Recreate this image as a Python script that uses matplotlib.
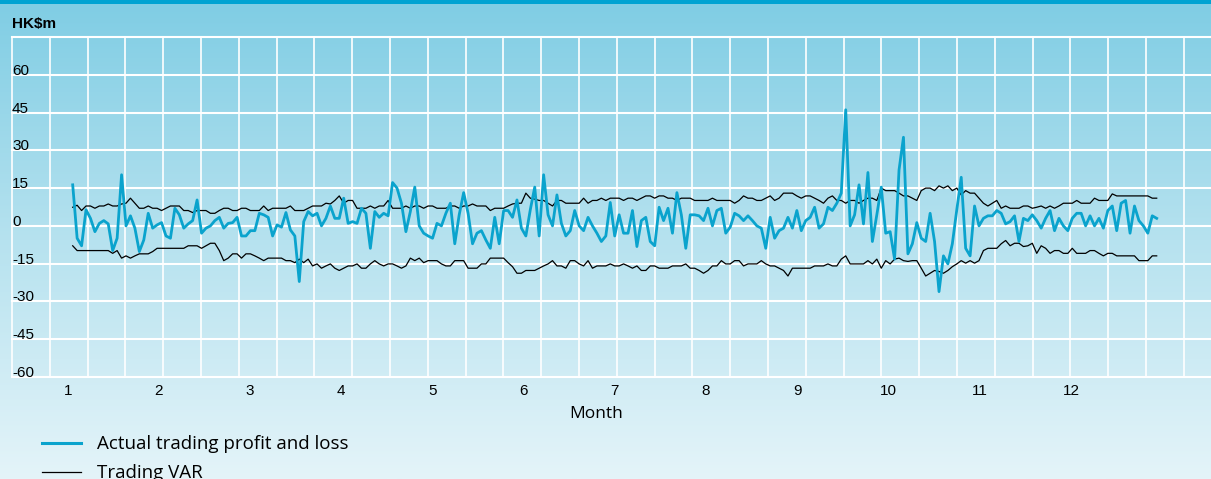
import numpy as np
import matplotlib.pyplot as plt
from matplotlib.colors import LinearSegmentedColormap
from matplotlib.lines import Line2D
from matplotlib.patches import Rectangle
from matplotlib.transforms import blended_transform_factory

# daily trading P&L (HK$m)
pnl = [
    16.3, -4.9, -7.9, 6.4, 3.0, -2.3, 1.0, 2.1, 0.8, -9.8,
    -4.9, 20.3, 0.0, 4.0, -0.9, -10.2, -5.6, 5.0, -0.9, 0.4,
    1.3, -4.0, -4.9, 7.0, 4.4, -0.9, 0.8, 2.1, 10.3, -2.9,
    -0.9, 0.0, 2.1, 3.4, -0.9, 1.0, 1.3, 3.4, -4.0, -4.0,
    -1.9, -1.9, 5.0, 4.4, 3.4, -4.0, 0.4, -0.5, 5.3, -1.6,
    -4.0, -22.1, 1.7, 5.7, 4.0, 5.0, 0.0, 3.0, 7.9, 3.0,
    3.0, 11.0, 1.0, 1.7, 1.0, 7.0, 5.0, -8.9, 5.7, 3.4,
    5.0, 4.0, 17.2, 15.0, 9.0, -2.3, 5.7, 15.4, 0.0, -2.9,
    -4.0, -4.9, 1.0, 0.0, 5.0, 9.0, -7.1, 4.4, 13.2, 5.0,
    -7.1, -2.9, -1.9, -5.6, -8.9, 3.4, -7.1, 6.1, 6.1,
    3.4, 10.3, -0.9, -4.0, 6.4, 15.4, -4.0, 20.3, 4.4, 0.0,
    12.3, 1.0, -4.0, -1.9, 6.1, 0.0, -1.9, 3.4, 0.0, -2.9,
    -6.2, -4.0, 9.3, -4.0, 4.4, -2.9, -2.9, 6.1, -8.2, 2.1,
    3.4, -6.2, -7.9, 7.4, 2.1, 7.0, -2.9, 13.2, 4.4, -8.9,
    4.4, 4.4, 4.0, 2.1, 7.0, 0.0, 6.1, 7.0, -2.9, -0.5,
    5.0, 4.0, 2.1, 4.0, 2.1, 0.0, -0.9, -8.9, 3.4, -4.9,
    -1.9, -0.9, 3.4, -0.9, 6.1, -1.9, 2.1, 3.4, 7.4, -0.9,
    0.8, 7.4, 6.1, 9.0, 13.0, 46.1, 0.0, 4.4, 16.3, 0.8,
    21.2, -6.2, 4.4, 15.4, -2.9, -2.3, -13.2, 22.2, 35.2, -11.1,
    -7.1, 1.3, -4.9, -6.2, 5.0, -6.2, -26.1, -11.9, -15.1,
    -7.1, 6.4, 19.3, -8.9, -11.9, 7.9, 0.0, 3.0, 4.0, 4.0,
    6.1, 5.0, 0.8, 1.7, 4.0, -6.2, 3.0, 2.1, 4.4, 2.1,
    -0.9, 3.0, 6.1, -1.9, 3.0, 0.0, -1.9, 3.0, 5.0, 5.0,
    0.0, 4.0, 0.0, 3.0, -0.9, 6.1, 7.9, -1.9, 9.0, 10.1,
    -2.9, 7.9, 2.1, 0.0, -2.9, 4.0, 3.0,
]

# trading VAR band, upper and lower
var_hi = [
    7.4, 8.2, 6.1, 7.9, 7.9, 7.0, 7.9, 7.9, 8.7, 7.9,
    7.9, 8.7, 9.0, 11.0, 9.0, 7.0, 7.0, 7.9, 7.0, 7.0,
    6.1, 7.0, 7.9, 7.9, 7.9, 6.1, 6.1, 5.3, 6.1, 6.1,
    6.1, 5.0, 5.0, 6.1, 7.0, 7.0, 6.1, 6.1, 7.0, 7.0,
    6.1, 6.1, 6.1, 7.9, 6.1, 7.0, 7.0, 7.0, 7.0, 7.9,
    6.1, 6.1, 6.1, 7.0, 7.9, 7.9, 7.9, 9.0, 8.7, 10.1,
    11.9, 9.0, 10.1, 10.1, 7.0, 7.0, 7.0, 7.9, 7.0, 7.9,
    7.9, 10.1, 7.0, 7.0, 7.0, 7.9, 7.0, 7.9, 7.9, 7.0,
    7.9, 7.9, 7.0, 7.0, 7.0, 7.9, 7.9, 7.0, 7.9, 7.9,
    8.7, 7.9, 7.9, 7.9, 6.1, 7.0, 7.0, 7.0, 7.9,
    8.7, 9.0, 9.0, 13.0, 11.0, 10.6, 10.1, 10.1, 9.0, 7.9,
    10.1, 10.1, 9.0, 9.0, 9.0, 9.0, 11.0, 9.0, 10.1, 10.1,
    11.0, 10.1, 11.0, 11.0, 11.0, 10.1, 11.0, 11.0, 10.1, 11.0,
    11.9, 11.9, 11.0, 11.9, 11.9, 11.0, 11.0, 10.1, 11.0, 11.0,
    11.0, 10.1, 10.1, 10.1, 10.1, 11.0, 10.1, 10.1, 10.1, 10.1,
    9.0, 10.1, 11.9, 11.0, 11.0, 10.1, 10.1, 11.0, 11.9, 10.1,
    11.0, 13.0, 13.0, 13.0, 11.9, 11.0, 11.9, 11.9, 11.0, 10.1,
    9.0, 11.0, 11.9, 10.1, 10.1, 9.0, 10.1, 10.1, 9.0, 10.1,
    11.0, 11.0, 10.1, 15.0, 14.0, 14.0, 14.0, 13.0, 11.9, 11.9,
    11.0, 10.1, 14.0, 15.0, 15.0, 14.0, 15.9, 15.0, 15.9,
    14.0, 15.0, 12.3, 14.0, 13.0, 13.0, 11.0, 9.0, 7.9, 9.0,
    10.1, 7.0, 7.9, 7.0, 7.0, 7.0, 7.9, 7.9, 7.0, 7.4,
    7.9, 7.0, 7.9, 7.0, 7.9, 9.0, 9.0, 9.0, 10.1, 9.0,
    9.0, 9.0, 11.0, 10.1, 10.1, 10.1, 12.7, 11.9, 11.9, 11.9,
    11.9, 11.9, 11.9, 11.9, 11.9, 11.0, 11.0,
]

var_lo = [
    -7.9, -9.8, -9.8, -9.8, -9.8, -9.8, -9.8, -9.8, -9.8, -10.9,
    -9.8, -12.8, -11.9, -12.8, -11.9, -11.1, -11.1, -11.1, -10.2, -8.9,
    -8.9, -8.9, -8.9, -8.9, -8.9, -8.9, -7.9, -7.9, -7.9, -8.9,
    -7.9, -6.9, -6.9, -9.8, -13.8, -12.8, -11.1, -11.1, -12.8, -11.1,
    -11.1, -11.9, -12.8, -13.8, -12.8, -12.8, -12.8, -12.8, -13.8, -13.8,
    -14.6, -13.2, -14.6, -13.2, -15.9, -15.1, -16.8, -15.9, -15.1, -16.8,
    -17.7, -16.8, -15.9, -15.9, -15.1, -16.8, -16.8, -15.1, -13.8, -15.1,
    -15.9, -15.1, -15.1, -15.9, -16.8, -15.9, -12.8, -13.8, -12.8, -14.6,
    -13.8, -13.8, -13.8, -15.1, -15.9, -15.9, -13.8, -13.8, -13.8, -16.8,
    -16.8, -16.8, -15.1, -15.1, -12.8, -12.8, -12.8, -12.8, -14.6,
    -16.2, -18.8, -18.8, -17.7, -17.7, -17.7, -16.8, -15.9, -15.1, -13.8,
    -15.9, -15.9, -16.8, -13.8, -13.8, -15.1, -15.9, -13.8, -16.8, -15.9,
    -15.9, -15.9, -15.1, -15.9, -15.9, -15.1, -15.9, -16.8, -15.9, -17.7,
    -17.7, -15.9, -15.9, -16.8, -16.8, -16.8, -15.9, -15.9, -15.9, -15.1,
    -16.8, -16.8, -17.7, -18.8, -17.7, -15.9, -15.9, -13.8, -15.1, -15.1,
    -13.8, -13.8, -15.9, -15.1, -15.1, -15.1, -13.8, -15.1, -15.9, -15.9,
    -16.8, -17.7, -19.9, -16.8, -16.8, -16.8, -16.8, -16.8, -15.9, -15.9,
    -15.9, -15.1, -15.9, -15.9, -13.2, -11.9, -15.1, -15.1, -15.1, -15.1,
    -13.8, -15.1, -13.2, -16.8, -13.8, -15.1, -13.2, -12.8, -13.8, -14.1,
    -13.8, -13.8, -16.8, -19.9, -18.8, -17.7, -18.1, -18.8, -17.7,
    -16.2, -15.1, -13.8, -14.8, -13.8, -14.8, -13.8, -9.8, -8.9, -8.9,
    -8.9, -7.1, -5.8, -7.9, -6.9, -6.9, -8.2, -7.9, -6.9, -10.9,
    -7.9, -8.9, -10.9, -9.8, -9.8, -10.9, -10.9, -8.9, -10.9, -10.9,
    -10.9, -9.8, -9.8, -10.9, -11.9, -10.9, -10.9, -11.9, -11.9, -11.9,
    -11.9, -11.9, -13.8, -13.8, -13.8, -11.9, -11.9,
]

months = [str(m) for m in range(1, 13)]
yticks = list(range(-60, 61, 15))

W, H = 1211, 479
BLUE = '#0aa3cd'
fig = plt.figure(figsize=(W / 100, H / 100), dpi=100)

# background gradient + top strip
bg = fig.add_axes([0, 0, 1, 1], zorder=0)
cmap = LinearSegmentedColormap.from_list('bg', ['#7fcde4', '#b6e2ef', '#e4f4f9'])
bg.imshow(np.linspace(0, 1, 256).reshape(-1, 1), aspect='auto', cmap=cmap,
          extent=[0, 1, 0, 1], origin='upper')
bg.axis('off')
fig.add_artist(Rectangle((0, 1 - 4 / H), 1, 4 / H, transform=fig.transFigure,
                         color='#00a3d2', lw=0))

# main axes, positioned in pixels
ax = fig.add_axes([12 / W, (H - 377) / H, (W - 12) / W, 340 / H], zorder=1)
ax.patch.set_alpha(0)
for s in ax.spines.values():
    s.set_visible(False)

n = len(pnl)
days = np.arange(n)
px_day = (1156.7 - 72.7) / (n - 1)
ax.set_xlim((12 - 72.7) / px_day, (W - 72.7) / px_day)
ax.set_ylim(-60, 75)

# square white grid
gstep = 37.8 / px_day
x0 = (12 - 72.7) / px_day
for k in range(32):
    ax.axvline(x0 + k * gstep, color='white', lw=1.2, zorder=1, clip_on=False)
for v in range(-60, 76, 15):
    ax.axhline(v, color='white', lw=1.5, zorder=1, clip_on=False)

ax.plot(days, var_hi, color='black', lw=0.9, zorder=3)
ax.plot(days, var_lo, color='black', lw=0.9, zorder=3)
ax.plot(days, pnl, color=BLUE, lw=2.0, zorder=4)

mpos = [(67.7 + 91.2 * k - 72.7) / px_day for k in range(12)]
ax.set_xticks(mpos, labels=months)
ax.set_yticks([])
ax.tick_params(axis='x', length=0, pad=5, labelsize=11)
for lab in ax.get_xticklabels():
    lab.set_family('Liberation Sans')

tr = blended_transform_factory(ax.transAxes, ax.transData)
for v in yticks:
    ax.text(0.0, v, str(v), transform=tr, ha='left', va='baseline',
            fontsize=11, family='Liberation Sans', zorder=5)

fig.text(12 / W, 1 - 24 / H, r'HK\$m', fontsize=11, fontweight='bold',
         family='Liberation Sans', va='center', ha='left')
fig.text(596 / W, 1 - 414 / H, 'Month', fontsize=12.5, family='Open Sans',
         ha='center', va='center')

# legend
for yy, col, lw, label in [(443, BLUE, 2.2, 'Actual trading profit and loss'),
                           (472, 'black', 0.9, 'Trading VAR')]:
    fig.add_artist(Line2D([42 / W, 81 / W], [1 - yy / H] * 2,
                          transform=fig.transFigure, color=col, lw=lw))
    fig.text(97 / W, 1 - (yy + 1) / H, label, fontsize=13.5, family='Open Sans',
             ha='left', va='center')

fig.savefig('out.png', dpi=100)
